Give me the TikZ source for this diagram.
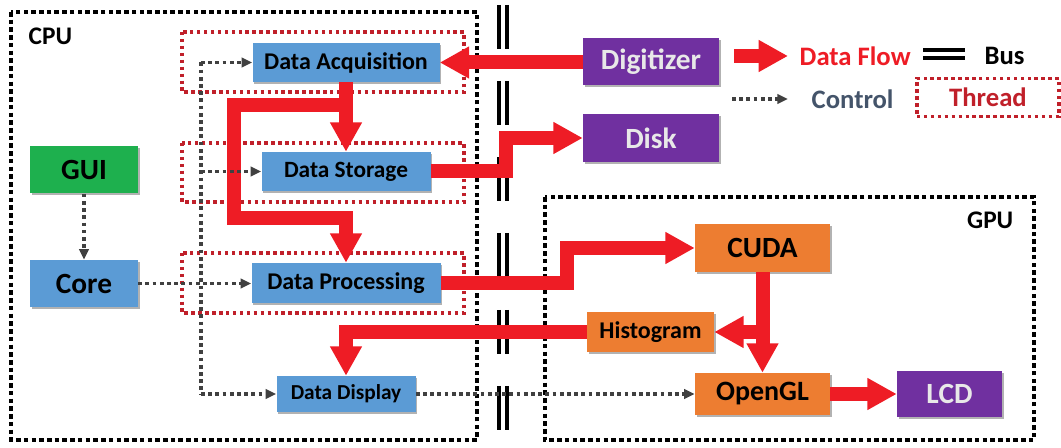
\documentclass[tikz,border=0pt]{standalone}
\usepackage{fontspec}
\setmainfont{Carlito}
\usetikzlibrary{arrows.meta,shadows}
\definecolor{nblue}{HTML}{5B9BD5}
\definecolor{ngreen}{HTML}{1EB04E}
\definecolor{norange}{HTML}{ED7D31}
\definecolor{npurple}{HTML}{7030A0}
\definecolor{fred}{HTML}{EE1C25}
\definecolor{tred}{HTML}{C0202A}
\definecolor{cgray}{HTML}{404040}
\definecolor{ctext}{HTML}{44546A}
\begin{document}
\begin{tikzpicture}[x=0.75pt,y=-0.75pt,
  box/.style 2 args={minimum width=#1*0.75pt, minimum height=#2*0.75pt, inner sep=0pt, font=\bfseries},
  shad/.style={drop shadow={shadow xshift=1.2pt, shadow yshift=-1.2pt, opacity=0.3, fill=black}},
  bluebox/.style={fill=nblue, shad},
  greenbox/.style={fill=ngreen, shad},
  orangebox/.style={fill=norange, shad},
  purplebox/.style={fill=npurple, shad, text=gray!18},
  fl/.style={draw=fred, line width=10.5pt},
  flow/.style={fl, -{Triangle[length=22pt,width=22.5pt]}},
  ctrlline/.style={draw=cgray, line width=2.8pt, dash pattern=on 2.8pt off 2.6pt},
  ctrl/.style={ctrlline, -{Triangle[length=8pt,width=7pt]}},
  outerbox/.style={draw=black, line width=3.6pt, dash pattern=on 3.4pt off 2.4pt},
  threadbox/.style={draw=tred, line width=2.7pt, dash pattern=on 2.6pt off 2.6pt},
  busline/.style={draw=black, line width=3pt},
  f/.style={font=\fontsize{#1}{#1}\selectfont\bfseries}
]
\useasboundingbox (0,0) rectangle (1061,448);

% group boxes
\draw[outerbox] (11,12) rectangle (477,440);
\draw[outerbox] (545,197) rectangle (1034,440);
\node[f=19, anchor=west] (cpu) at (24,36) {CPU};
\node[f=19, anchor=east] (gpu) at (1018,220) {GPU};

% thread boxes
\draw[threadbox] (182,32) rectangle (464,92);
\draw[threadbox] (182,143) rectangle (464,202);
\draw[threadbox] (182,253) rectangle (464,313);

% bus marks
\foreach \y in {5,81,157,233,310,386} {
  \draw[busline] (499,\y) -- (499,\y+44);
  \draw[busline] (507,\y) -- (507,\y+44);
}

% nodes
\node[bluebox, box={187}{39}, f=18] (da) at (346,62.5) {Data Acquisition};
\node[bluebox, box={169}{39}, f=17.5] (ds) at (346,171.5) {Data Storage};
\node[bluebox, box={189}{40}, f=18] (dp) at (346,283) {Data Processing};
\node[bluebox, box={139}{36}, f=16] (dd) at (346,394) {Data Display};
\node[greenbox, box={108}{47}, f=22] (gui) at (84,170) {GUI};
\node[bluebox, box={108}{47}, f=22] (core) at (84,283.5) {Core};
\node[purplebox, box={136}{47}, f=22] (dig) at (651,62) {Digitizer};
\node[purplebox, box={136}{48}, f=22] (disk) at (651,138) {Disk};
\node[orangebox, box={135}{48}, f=22] (cuda) at (762.5,248) {CUDA};
\node[orangebox, box={127}{40}, f=18] (hist) at (650.5,332) {Histogram};
\node[orangebox, box={135}{42}, f=21] (ogl) at (762.5,394) {OpenGL};
\node[purplebox, box={105}{46}, f=22] (lcd) at (949.5,394) {LCD};

% data flow
\draw[flow] (da.east -| dig.west) -- (da.east);
\draw[flow] (da.south) -- (ds.north);
\draw[flow] (da.south) -- ++(0,23) -| (234,218) -| (dp.north);
\draw[flow] (ds.east) -- ++(75,0) |- (disk.west);
\draw[flow] (dp.east) -- ++(126,0) |- (cuda.west);
\draw[flow] (cuda.south) -- (ogl.north);
\draw[flow] (cuda.south |- hist.east) -- (hist.east);
\draw[flow] (hist.west) -| (dd.north);
\draw[flow] (ogl.east) -- (lcd.west);

% control
\coordinate (cv) at (201,0);
\draw[ctrl] (gui.south) -- (core.north);
\draw[ctrl] (core.east) -- (core.east -| dp.west);
\draw[ctrlline] (cv |- da.west) -- (cv |- dd.west);
\draw[ctrl] (cv |- da.west) -- (da.west);
\draw[ctrl] (cv |- ds.west) -- (ds.west);
\draw[ctrl] (cv |- dd.west) -- (dd.west);
\draw[ctrl] (dd.east) -- (ogl.west);

% legend
\coordinate (lf1) at (734,56);
\coordinate (lf2) at (788,56);
\draw[flow] (lf1) -- (lf2);
\node[f=20, text=fred, anchor=west] (lflow) at (795,56) {Data Flow};
\coordinate (lb1) at (923,50);
\coordinate (lb2) at (965,50);
\coordinate (lb3) at (923,58);
\coordinate (lb4) at (965,58);
\draw[busline] (lb1) -- (lb2);
\draw[busline] (lb3) -- (lb4);
\node[f=20, anchor=west] (lbus) at (980,56) {Bus};
\coordinate (lc1) at (732,99);
\coordinate (lc2) at (788,99);
\draw[ctrl] (lc1) -- (lc2);
\node[f=20, text=ctext, anchor=west] (lctrl) at (807,99) {Control};
\node[threadbox, box={142}{38}, f=20, text=tred] (lthr) at (988,97.5) {Thread};
\end{tikzpicture}
\end{document}
